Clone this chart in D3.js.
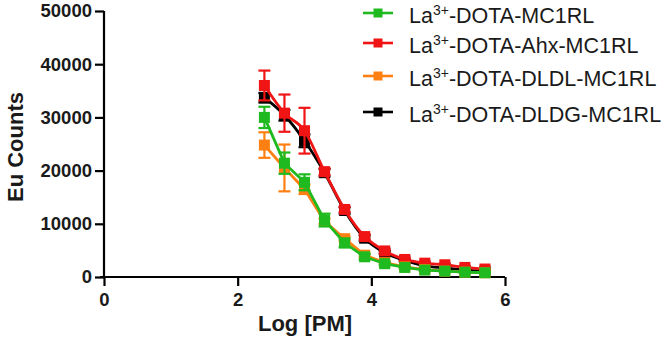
<!DOCTYPE html>
<html>
<head>
<meta charset="utf-8">
<script src="https://cdn.jsdelivr.net/npm/d3@7"></script>
<style>
  body { margin: 0; background: #fff; }
  svg { display: block; font-family: Arial, "Liberation Sans", sans-serif; }
</style>
</head>
<body>
<svg id="chart" width="666" height="341"></svg>
<script>
// log concentrations
const logConc = [2.4, 2.7, 3.0, 3.3, 3.6, 3.9, 4.2, 4.5, 4.8, 5.1, 5.4, 5.7];

// Eu counts per compound (means)
const mc1rl   = [30000, 21400, 17800, 10700, 6400, 3800, 2500, 1800, 1300, 1100, 900, 800];
const ahx     = [36000, 30800, 27500, 19800, 12700, 7600, 4900, 3300, 2600, 2300, 1800, 1500];
const dldl    = [24800, 20500, 16500, 10500, 7200, 4100, 2700, 1900, 1400, 1100, 900, 800];
const dldg    = [33700, 30400, 25600, 19600, 12500, 7300, 4600, 3100, 2100, 1700, 1300, 1100];

// error bars (SD)
const mc1rlErr = [2000, 2000, 1500, 1200, 800, 500, 300, 200, 200, 200, 150, 150];
const ahxErr   = [2800, 3500, 4300, 600, 500, 400, 300, 300, 300, 200, 200, 200];
const dldlErr  = [2400, 4400, 900, 500, 400, 300, 200, 200, 200, 150, 150, 150];
const dldgErr  = [900, 1000, 1200, 700, 600, 500, 300, 200, 200, 150, 150, 150];

const seriesNames = ["La|3+|-DOTA-MC1RL", "La|3+|-DOTA-Ahx-MC1RL", "La|3+|-DOTA-DLDL-MC1RL", "La|3+|-DOTA-DLDG-MC1RL"];
const seriesColors = ["#1fba1f", "#f01414", "#ff8012", "#000000"];

const xTicks = [0, 2, 4, 6];
const yTicks = [0, 10000, 20000, 30000, 40000, 50000];

const series = [
  {name: seriesNames[0], color: seriesColors[0], y: mc1rl, err: mc1rlErr, smooth: false},
  {name: seriesNames[1], color: seriesColors[1], y: ahx, err: ahxErr, smooth: true},
  {name: seriesNames[2], color: seriesColors[2], y: dldl, err: dldlErr, smooth: false},
  {name: seriesNames[3], color: seriesColors[3], y: dldg, err: dldgErr, smooth: true}
];

const svg = d3.select("#chart");

const x = d3.scaleLinear().domain([0, 6]).range([104, 505]);
const y = d3.scaleLinear().domain([0, 50000]).range([277, 11]);

// axes
const xAxis = svg.append("g")
  .attr("transform", `translate(0, ${y(0)})`)
  .call(d3.axisBottom(x).tickValues(xTicks).tickSize(9).tickPadding(7).tickFormat(d3.format("d")));
const yAxis = svg.append("g")
  .attr("transform", `translate(${x(0)}, 0)`)
  .call(d3.axisLeft(y).tickValues(yTicks).tickSize(9).tickPadding(3).tickFormat(d3.format("d")));

[xAxis, yAxis].forEach(a => {
  a.select(".domain").attr("stroke", "#000").attr("stroke-width", 2.2);
  a.selectAll(".tick line").attr("stroke", "#000").attr("stroke-width", 2.2);
  a.selectAll(".tick text")
    .attr("fill", "#1a1a1a")
    .style("font-size", "18.5px")
    .style("font-weight", "bold")
    .style("font-family", "Arial, 'Liberation Sans', sans-serif");
});
xAxis.select(".domain").attr("d", `M${x(0) - 4},0H${x(6)}`);
yAxis.select(".domain").attr("d", `M0,${y(50000)}V${y(0)}`);

// axis titles
svg.append("text")
  .attr("x", 305)
  .attr("y", 331)
  .attr("text-anchor", "middle")
  .style("font-size", "22px")
  .style("font-weight", "bold")
  .attr("fill", "#1a1a1a")
  .text("Log [PM]");

svg.append("text")
  .attr("transform", `translate(23, 147) rotate(-90)`)
  .attr("text-anchor", "middle")
  .style("font-size", "22px")
  .style("font-weight", "bold")
  .attr("fill", "#1a1a1a")
  .text("Eu Counts");

// draw order: black, red, orange, green
const drawOrder = [3, 1, 2, 0];
const markSize = 11;

drawOrder.forEach(k => {
  const s = series[k];
  const g = svg.append("g");
  const pts = logConc.map((c, i) => ({c, v: s.y[i], e: s.err[i]}));

  // error bars
  const eb = g.selectAll(".eb").data(pts).enter().append("g");
  eb.append("line")
    .attr("x1", d => x(d.c)).attr("x2", d => x(d.c))
    .attr("y1", d => y(d.v + d.e)).attr("y2", d => y(d.v - d.e))
    .attr("stroke", s.color).attr("stroke-width", 2.2);
  [1, -1].forEach(sg => {
    eb.append("line")
      .attr("x1", d => x(d.c) - 6).attr("x2", d => x(d.c) + 6)
      .attr("y1", d => y(d.v + sg * d.e)).attr("y2", d => y(d.v + sg * d.e))
      .attr("stroke", s.color).attr("stroke-width", 2.2);
  });

  const line = d3.line()
    .x(d => x(d.c)).y(d => y(d.v))
    .curve(s.smooth ? d3.curveMonotoneX : d3.curveLinear);
  g.append("path")
    .datum(pts)
    .attr("d", line)
    .attr("fill", "none")
    .attr("stroke", s.color)
    .attr("stroke-width", 2.8);

  g.selectAll("rect").data(pts).enter().append("rect")
    .attr("x", d => x(d.c) - markSize / 2)
    .attr("y", d => y(d.v) - markSize / 2)
    .attr("width", markSize)
    .attr("height", markSize)
    .attr("fill", s.color);
});

// legend
const legendY = [13, 43, 76, 112];
const lg = svg.append("g");
series.forEach((s, i) => {
  const row = lg.append("g").attr("transform", `translate(0, ${legendY[i]})`);
  row.append("line")
    .attr("x1", 363).attr("x2", 393).attr("y1", 0).attr("y2", 0)
    .attr("stroke", s.color).attr("stroke-width", 2.6);
  row.append("rect")
    .attr("x", 378 - 4.5).attr("y", -4.5).attr("width", 9).attr("height", 9)
    .attr("fill", s.color);
  const parts = s.name.split("|");
  const t = row.append("text")
    .attr("x", 409).attr("y", 9.5)
    .style("font-size", "21.5px")
    .attr("fill", "#1a1a1a");
  t.append("tspan").text(parts[0]);
  t.append("tspan").attr("dy", -8).style("font-size", "14px").text(parts[1]);
  t.append("tspan").attr("dy", 8).text(parts[2]);
});
</script>
</body>
</html>
